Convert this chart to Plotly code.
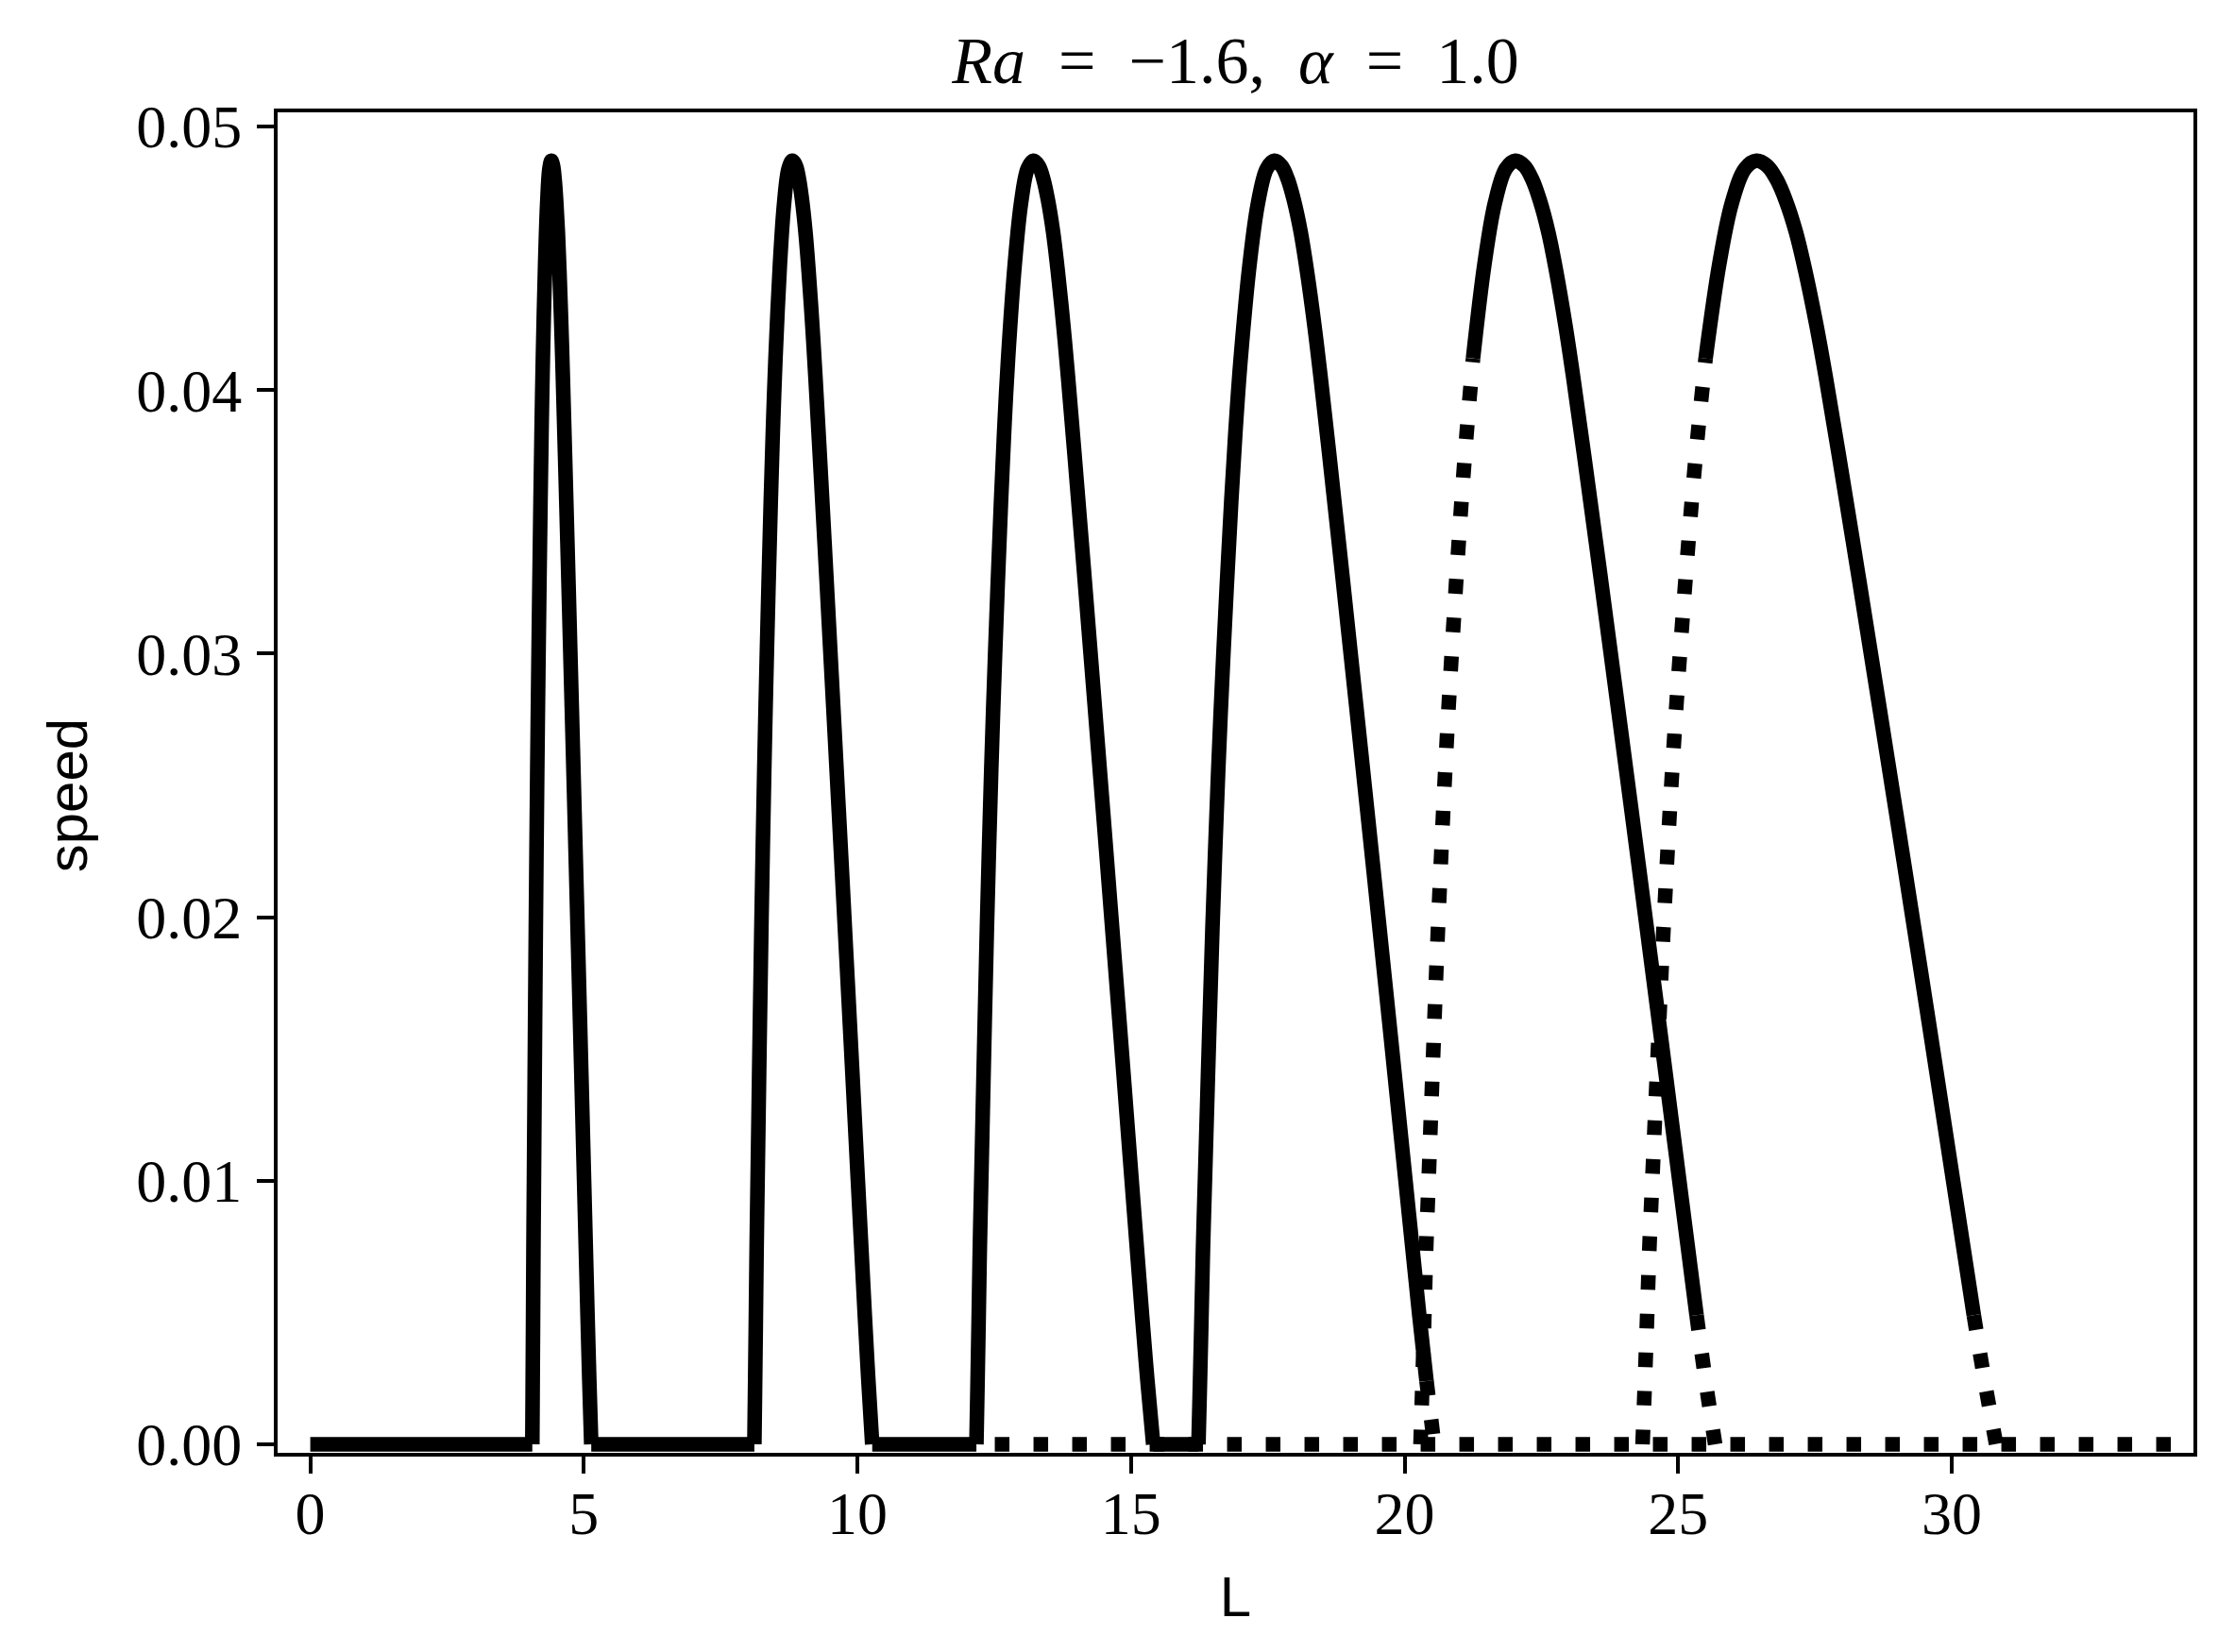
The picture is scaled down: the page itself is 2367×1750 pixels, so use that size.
import plotly.graph_objects as go

# speed along one branch (same for every branch: they all peak at ~0.0487)
branch_speed = [0.0, 0.0020, 0.0045, 0.0075, 0.0107, 0.0150, 0.0196, 0.0255, 0.0300, 0.0358,
                0.0388, 0.0412, 0.0448, 0.0471, 0.0484, 0.0487, 0.0485, 0.0480, 0.0472, 0.0460,
                0.0445, 0.0425, 0.0405, 0.0376, 0.0330, 0.0280, 0.0220, 0.0160, 0.0100, 0.0049,
                0.0024, 0.0]

branch1_L = [4.058, 4.064, 4.071, 4.079, 4.090, 4.105, 4.122, 4.148, 4.172, 4.208, 4.230, 4.251,
             4.292, 4.330, 4.370, 4.405, 4.438, 4.466, 4.494, 4.525, 4.554, 4.587, 4.616, 4.655,
             4.715, 4.779, 4.855, 4.930, 5.004, 5.067, 5.100, 5.135]
branch2_L = [8.116, 8.128, 8.142, 8.158, 8.180, 8.210, 8.244, 8.296, 8.344, 8.416, 8.460, 8.502,
             8.584, 8.660, 8.740, 8.810, 8.876, 8.932, 8.988, 9.050, 9.108, 9.174, 9.232, 9.310,
             9.430, 9.558, 9.710, 9.860, 10.008, 10.134, 10.200, 10.270]
branch3_L = [12.174, 12.192, 12.213, 12.237, 12.270, 12.315, 12.366, 12.444, 12.516, 12.624, 12.690,
             12.753, 12.876, 12.990, 13.110, 13.215, 13.314, 13.398, 13.482, 13.575, 13.662, 13.761,
             13.848, 13.965, 14.145, 14.337, 14.565, 14.790, 15.012, 15.201, 15.300, 15.405]
branch4_L = [16.232, 16.256, 16.284, 16.316, 16.360, 16.420, 16.488, 16.592, 16.688, 16.832, 16.920,
             17.004, 17.168, 17.320, 17.480, 17.620, 17.752, 17.864, 17.976, 18.100, 18.216, 18.348,
             18.464, 18.620, 18.860, 19.116, 19.420, 19.720, 20.016, 20.268, 20.400, 20.540]
branch5_L = [20.290, 20.320, 20.355, 20.395, 20.450, 20.525, 20.610, 20.740, 20.860, 21.040, 21.150,
             21.250, 21.460, 21.650, 21.850, 22.025, 22.190, 22.330, 22.470, 22.625, 22.770, 22.935,
             23.080, 23.275, 23.575, 23.895, 24.275, 24.650, 25.020, 25.335, 25.500, 25.675]
branch6_L = [24.348, 24.384, 24.426, 24.474, 24.540, 24.630, 24.732, 24.888, 25.032, 25.248, 25.380,
             25.500, 25.752, 25.980, 26.220, 26.430, 26.628, 26.796, 26.964, 27.150, 27.324, 27.522,
             27.696, 27.930, 28.290, 28.674, 29.130, 29.580, 30.024, 30.402, 30.600, 30.810]

# first and last point index of the stable (solid) stretch of each branch
branch_stable = [(0, 31), (0, 31), (0, 31), (0, 30), (11, 29), (11, 29)]

# trivial state speed = 0
zero_stable_L = [(0.0, 4.058), (5.135, 8.116), (10.270, 12.174), (15.405, 16.232)]
zero_unstable_L = (12.51, 34.45)

x_ticks = [0, 5, 10, 15, 20, 25, 30]
y_ticks = [0.0, 0.01, 0.02, 0.03, 0.04, 0.05]

LW = 15.5
DOT = "15.5px,25.5px"

fig = go.Figure()

# stable zero state
zx, zy = [], []
for a, b in zero_stable_L:
    zx += [a, b, None]
    zy += [0, 0, None]
fig.add_trace(go.Scatter(x=zx, y=zy, mode="lines", line=dict(color="black", width=LW)))
fig.add_trace(go.Scatter(x=list(zero_unstable_L), y=[0, 0], mode="lines",
                         line=dict(color="black", width=LW, dash=DOT)))

branches = [branch1_L, branch2_L, branch3_L, branch4_L, branch5_L, branch6_L]
for L, (a, b) in zip(branches, branch_stable):
    fig.add_trace(go.Scatter(x=L[a:b + 1], y=branch_speed[a:b + 1], mode="lines",
                             line=dict(color="black", width=LW, shape="spline")))
    if a > 0:
        fig.add_trace(go.Scatter(x=L[:a + 1], y=branch_speed[:a + 1], mode="lines",
                                 line=dict(color="black", width=LW, shape="spline", dash=DOT)))
    if b < len(L) - 1:
        fig.add_trace(go.Scatter(x=L[b:], y=branch_speed[b:], mode="lines",
                                 line=dict(color="black", width=LW, shape="spline", dash=DOT)))

axis_common = dict(showline=True, linecolor="black", linewidth=4, mirror=True,
                   ticks="outside", ticklen=18, tickwidth=4, tickcolor="black",
                   showgrid=False, zeroline=False, automargin=False,
                   tickfont=dict(family="Liberation Serif", size=64, color="black"))

label_font = dict(family="Liberation Sans", size=60, color="black")

# the page puts the figure 8px in from the top-left corner, so margins are shifted by that
fig.update_layout(
    width=2367, height=1750,
    margin=dict(l=286, r=52, t=111, b=219),
    plot_bgcolor="white", paper_bgcolor="white",
    showlegend=False,
    title=dict(text="<i>Ra</i>\u2002=\u2002\u22121.6,\u2002<i>\u03b1</i>\u2002=\u20021.0",
               font=dict(family="Liberation Serif", size=70, color="black"),
               x=0.5, xref="paper", xanchor="center",
               y=1 - 55 / 1750, yref="container", yanchor="middle"),
    xaxis=dict(range=[-0.597, 34.416], tickvals=x_ticks,
               ticktext=[str(v) for v in x_ticks], ticklabelstandoff=-13,
               title=dict(text="L", font=label_font, standoff=33),
               **axis_common),
    yaxis=dict(range=[-0.000322, 0.050537], tickvals=y_ticks,
               ticktext=[f"{v:.2f}" for v in y_ticks], ticklabelstandoff=3,
               **axis_common),
    annotations=[dict(text="speed", font=label_font, textangle=-90, showarrow=False,
                      xref="paper", yref="paper", x=-0.1095, y=0.4905,
                      xanchor="center", yanchor="middle")],
)

fig.write_html("out.html")
